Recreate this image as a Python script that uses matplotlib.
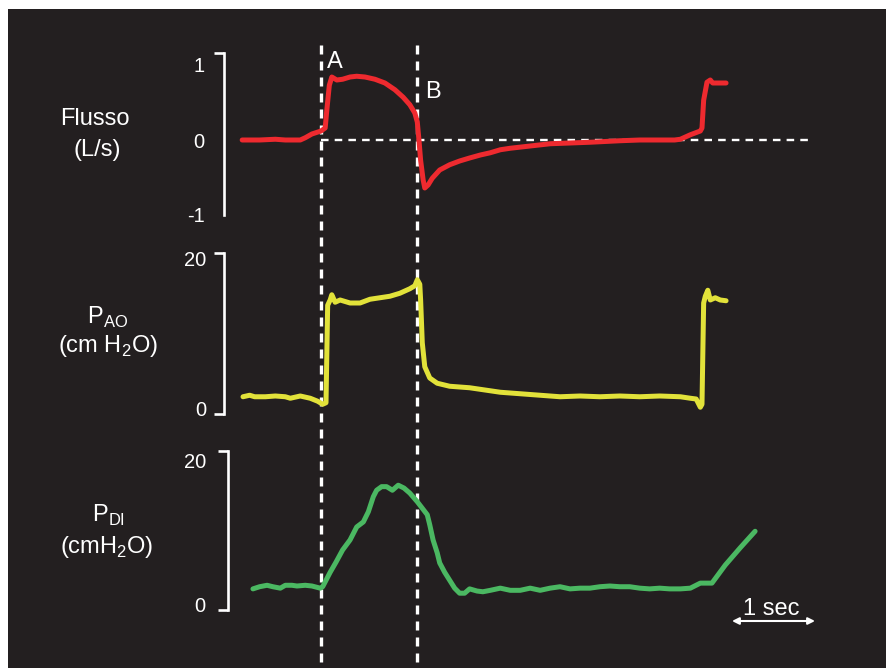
import matplotlib
matplotlib.use("Agg")
import matplotlib.pyplot as plt
from matplotlib.patches import Rectangle
from matplotlib.transforms import blended_transform_factory

plt.rcParams['font.family'] = ['Liberation Sans', 'DejaVu Sans']
plt.rcParams['axes.unicode_minus'] = False
plt.rcParams['mathtext.fontset'] = 'custom'
plt.rcParams['mathtext.rm'] = 'Liberation Sans'

flow_t = [-0.01, 0.20, 0.39, 0.51, 0.69, 0.75, 0.83, 0.94, 0.99, 1.01, 1.04, 1.07, 1.13, 1.20,
          1.29, 1.37, 1.47, 1.59, 1.71, 1.83, 1.93, 2.01, 2.07, 2.10, 2.12, 2.14, 2.17, 2.19,
          2.23, 2.28, 2.37, 2.49, 2.61, 2.73, 2.86, 2.98, 3.10, 3.22, 3.46, 3.70, 3.94, 4.18,
          4.54, 4.78, 5.02, 5.20, 5.27, 5.39, 5.51, 5.53, 5.55, 5.59, 5.63, 5.66, 5.75, 5.82]
flow_v = [0, 0, 0.01, 0, 0, 0.03, 0.08, 0.12, 0.16, 0.40, 0.73, 0.84, 0.80, 0.81,
          0.84, 0.85, 0.84, 0.81, 0.76, 0.67, 0.57, 0.47, 0.36, 0.24, 0, -0.27, -0.53, -0.64,
          -0.60, -0.51, -0.40, -0.33, -0.28, -0.24, -0.20, -0.17, -0.13, -0.11, -0.08, -0.05, -0.04, -0.03,
          -0.01, 0, 0, 0, 0.01, 0.07, 0.12, 0.16, 0.53, 0.77, 0.80, 0.76, 0.76, 0.76]

pao_t = [0, 0.08, 0.14, 0.27, 0.39, 0.51, 0.57, 0.69, 0.81, 0.90, 0.96, 1.00, 1.02, 1.05,
         1.07, 1.11, 1.17, 1.29, 1.41, 1.53, 1.65, 1.77, 1.89, 2.01, 2.07, 2.10, 2.13, 2.14,
         2.16, 2.19, 2.25, 2.34, 2.49, 2.73, 3.10, 3.34, 3.58, 3.82, 4.06, 4.30, 4.54, 4.78,
         5.02, 5.27, 5.39, 5.46, 5.51, 5.53, 5.55, 5.57, 5.60, 5.63, 5.69, 5.75, 5.82]
pao_v = [1.5, 1.7, 1.5, 1.5, 1.6, 1.5, 1.3, 1.6, 1.3, 0.9, 0.5, 0.7, 13.7, 14.4,
         15.1, 14.1, 14.4, 14.0, 14.0, 14.5, 14.7, 14.9, 15.3, 15.9, 16.3, 17.1, 16.5, 14.4,
         8.7, 5.5, 4.0, 3.3, 2.9, 2.7, 2.1, 1.9, 1.7, 1.5, 1.6, 1.5, 1.6, 1.5,
         1.6, 1.5, 1.3, 1.2, 0.1, 0.5, 14.0, 14.9, 15.7, 14.4, 14.7, 14.4, 14.3]

pdi_t = [0.12, 0.20, 0.29, 0.36, 0.45, 0.51, 0.59, 0.65, 0.75, 0.83, 0.93, 0.96, 1.05, 1.12,
         1.20, 1.29, 1.37, 1.45, 1.51, 1.57, 1.61, 1.67, 1.73, 1.80, 1.87, 1.94, 2.01, 2.10,
         2.16, 2.22, 2.25, 2.29, 2.34, 2.37, 2.43, 2.49, 2.55, 2.61, 2.67, 2.73, 2.82, 2.89,
         2.98, 3.10, 3.22, 3.34, 3.46, 3.58, 3.70, 3.82, 3.94, 4.06, 4.18, 4.30, 4.42, 4.54,
         4.66, 4.78, 4.90, 5.02, 5.14, 5.27, 5.39, 5.51, 5.65, 5.81, 5.99, 6.17]
pdi_v = [2.1, 2.4, 2.6, 2.4, 2.2, 2.6, 2.6, 2.5, 2.6, 2.5, 2.2, 2.4, 4.4, 5.8,
         7.5, 8.9, 10.7, 11.4, 12.8, 14.9, 15.8, 16.3, 16.3, 15.8, 16.5, 16.1, 15.4, 14.2,
         13.3, 12.4, 11.0, 8.9, 7.1, 5.7, 4.4, 3.3, 2.2, 1.5, 1.5, 2.1, 1.8, 1.7,
         1.9, 2.2, 1.9, 1.9, 2.2, 1.9, 2.2, 2.4, 2.1, 2.2, 2.2, 2.4, 2.5, 2.4,
         2.4, 2.2, 2.1, 2.2, 2.1, 2.1, 2.2, 2.9, 2.9, 5.4, 7.8, 10.1]

t_A, t_B = 0.94, 2.10
flow_ticks, flow_labels = [-1, 0, 1], ['-1', '0', '1']
pao_ticks, pao_labels = [0, 20], ['0', '20']
pdi_ticks, pdi_labels = [0, 20], ['0', '20']

BG = '#231f20'
RED, YELLOW, GREEN = '#ee2a2f', '#e2e23a', '#4bb862'
W, H = 886, 668
T0, PXS, RIGHT = 243, 83.0, 840   # pixel di t=0, pixel per secondo

fig = plt.figure(figsize=(W / 100, H / 100), dpi=100)
fig.patch.set_facecolor('white')
fig.add_artist(Rectangle((8 / W, 0), 1 - 8 / W, 1 - 9 / H, transform=fig.transFigure,
                         facecolor=BG, edgecolor='none', zorder=-1))


def pannello(top, bottom, left, zero_px, px_unit, bracket, ticks, labels, pad):
    ax = fig.add_axes([left / W, 1 - bottom / H, (RIGHT - left) / W, (bottom - top) / H])
    ax.set_xlim((left - T0) / PXS, (RIGHT - T0) / PXS)
    ax.set_ylim((zero_px - bottom) / px_unit, (zero_px - top) / px_unit)
    ax.patch.set_visible(False)
    for s in ['top', 'right', 'bottom']:
        ax.spines[s].set_visible(False)
    ax.spines['left'].set_bounds(*bracket)
    ax.spines['left'].set_color('white')
    ax.spines['left'].set_linewidth(1.9)
    ax.set_xticks([])
    ax.set_yticks(ticks)
    ax.set_yticklabels(labels)
    ax.set_yticks(list(bracket), minor=True)
    ax.tick_params(axis='y', which='major', length=0, pad=pad, labelsize=14.5, labelcolor='white')
    ax.tick_params(axis='y', which='minor', length=7, width=1.9, color='white', direction='out')
    return ax


ax1 = pannello(40, 232, 224, 140, 75, (-1.0, 1.16), flow_ticks, flow_labels, 14)
ax2 = pannello(240, 428, 224, 408, 7.5, (-0.8, 20.67), pao_ticks, pao_labels, 13)
ax3 = pannello(438, 668, 228, 604, 7.2, (-0.83, 21.25), pdi_ticks, pdi_labels, 16)

# linee tratteggiate verticali A e B
tr = blended_transform_factory(ax1.transData, fig.transFigure)
for tt in [t_A, t_B]:
    ax1.plot([tt, tt], [1 - 45 / H, 0], transform=tr, color='white', lw=2.4,
             dashes=(2.7, 2.1), clip_on=False, zorder=1)
ax1.plot([t_A, (810 - T0) / PXS], [0, 0], color='white', lw=1.7, dashes=(3.2, 2.6), zorder=1)

kw = dict(lw=3.6, solid_joinstyle='round', solid_capstyle='round', zorder=3, clip_on=False)
ax1.plot(flow_t, flow_v, color=RED, **kw)
ax2.plot(pao_t, pao_v, color=YELLOW, **kw)
ax3.plot(pdi_t, pdi_v, color=GREEN, **kw)

ax1.text(1.11, 1.04, 'A', color='white', fontsize=17, ha='center', va='center')
ax1.text(2.29, 0.64, 'B', color='white', fontsize=17, ha='center', va='center')

# etichette a sinistra
tk = dict(color='white', fontsize=17, ha='center', va='baseline')
fig.text(95 / W, 1 - 125 / H, 'Flusso', **tk)
fig.text(97 / W, 1 - 156 / H, '(L/s)', **tk)
fig.text(108 / W, 1 - 324 / H, r'P$_\mathregular{AO}$', **tk)
fig.text(108 / W, 1 - 352 / H, r'(cm H$_\mathregular{2}$O)', **tk)
fig.text(108 / W, 1 - 522 / H, r'P$_\mathregular{DI}$', **tk)
fig.text(107 / W, 1 - 553 / H, r'(cmH$_\mathregular{2}$O)', **tk)

# scala dei tempi: 1 secondo
y_arr = (604 - 621) / 7.2
t_arr = (732 - T0) / PXS
ax3.annotate('', xy=(t_arr, y_arr), xytext=(t_arr + 1, y_arr),
             arrowprops=dict(arrowstyle='<|-|>', color='white', lw=1.5, mutation_scale=10,
                             shrinkA=0, shrinkB=0), annotation_clip=False)
ax3.text(t_arr + 0.47, (604 - 615) / 7.2, '1 sec', color='white', fontsize=17,
         ha='center', va='baseline')

fig.savefig('out.png', dpi=100, facecolor=fig.get_facecolor())
